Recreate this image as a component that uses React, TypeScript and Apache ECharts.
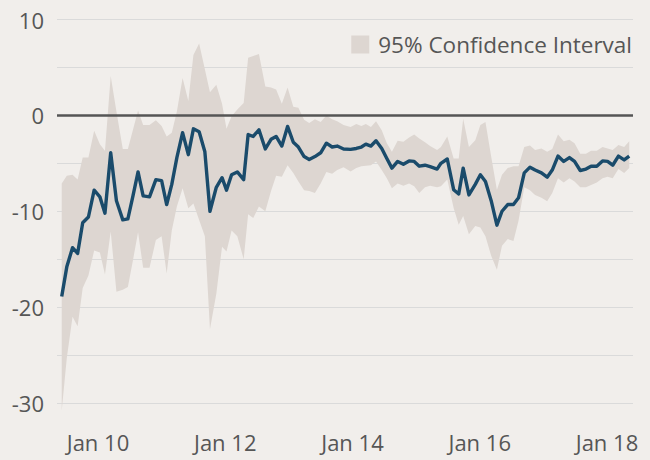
import React, { useEffect, useRef } from 'react';
import * as echarts from 'echarts';

// Observation dates as decimal years
const years = [
  2009.43, 2009.51, 2009.60, 2009.68, 2009.76, 2009.85, 2009.94, 2010.03, 2010.11, 2010.20,
  2010.29, 2010.39, 2010.47, 2010.55, 2010.63, 2010.71, 2010.81, 2010.91, 2011.00, 2011.08,
  2011.16, 2011.24, 2011.33, 2011.42, 2011.50, 2011.59, 2011.68, 2011.76, 2011.86, 2011.95,
  2012.02, 2012.10, 2012.19, 2012.29, 2012.36, 2012.44, 2012.53, 2012.63, 2012.72, 2012.80,
  2012.89, 2012.98, 2013.07, 2013.15, 2013.24, 2013.32, 2013.41, 2013.50, 2013.59, 2013.68,
  2013.76, 2013.86, 2013.97, 2014.06, 2014.14, 2014.21, 2014.29, 2014.37, 2014.46, 2014.54,
  2014.62, 2014.71, 2014.80, 2014.89, 2014.97, 2015.05, 2015.14, 2015.22, 2015.33, 2015.39,
  2015.49, 2015.59, 2015.67, 2015.74, 2015.83, 2015.93, 2016.01, 2016.09, 2016.18, 2016.27,
  2016.35, 2016.44, 2016.53, 2016.61, 2016.70, 2016.79, 2016.87, 2016.97, 2017.06, 2017.14,
  2017.23, 2017.32, 2017.41, 2017.49, 2017.58, 2017.67, 2017.75, 2017.84, 2017.93, 2018.01,
  2018.09, 2018.18, 2018.27, 2018.35,
];

// Point estimate
const estimate = [
  -18.9, -15.8, -13.8, -14.4, -11.2, -10.6, -7.8, -8.5, -10.2, -3.9,
  -8.9, -10.9, -10.8, -8.4, -5.9, -8.4, -8.5, -6.7, -6.8, -9.3,
  -7.2, -4.4, -1.8, -4.1, -1.4, -1.7, -3.8, -10.0, -7.5, -6.5,
  -7.8, -6.2, -5.9, -6.7, -2.0, -2.2, -1.5, -3.5, -2.5, -2.2,
  -3.2, -1.15, -2.8, -3.3, -4.3, -4.6, -4.3, -3.9, -2.9, -3.3,
  -3.2, -3.5, -3.55, -3.45, -3.3, -3.0, -3.2, -2.65, -3.45, -4.5,
  -5.5, -4.8, -5.1, -4.75, -4.8, -5.3, -5.2, -5.35, -5.6, -5.0,
  -4.55, -7.75, -8.2, -5.5, -8.3, -7.2, -6.2, -6.9, -8.9, -11.45,
  -10.0, -9.3, -9.3, -8.6, -6.0, -5.4, -5.7, -6.0, -6.45, -5.7,
  -4.25, -4.8, -4.4, -4.8, -5.75, -5.6, -5.3, -5.3, -4.75, -4.8,
  -5.2, -4.25, -4.65, -4.25,
];

// Upper bound of the 95% confidence interval
const upper = [
  -7.1, -6.3, -6.2, -6.7, -4.4, -4.4, -1.6, -3.0, -3.7, 4.1,
  0.4, -3.5, -3.5, -1.5, 0.5, -1.0, -1.0, -0.5, -1.1, -2.2,
  -1.8, 0.4, 3.9, 1.5, 6.3, 7.5, 4.8, 2.4, 3.2, 1.2,
  -1.4, -0.1, 0.6, 1.3, 6.0, 6.2, 6.4, 3.0, 2.9, 2.7,
  1.2, 2.9, 0.9, 0.8, -0.45, -0.8, -0.4, -0.7, 0.0, -0.4,
  -0.6, -1.0, -1.2, -0.9, -1.1, -0.9, -1.2, -0.6, -1.55, -2.9,
  -3.8, -2.65, -2.75, -2.3, -2.0, -2.4, -2.8, -3.2, -3.6, -3.3,
  -2.2, -4.5, -4.5, -0.35, -3.3, -2.6, -1.0, -0.7, -4.3, -7.75,
  -6.2, -5.5, -5.3, -5.3, -3.3, -3.15, -3.6, -3.45, -3.8, -3.5,
  -2.0, -2.7, -2.55, -2.9, -4.0, -4.0, -3.7, -3.7, -3.3, -3.45,
  -3.6, -3.1, -3.3, -2.7,
];

// Lower bound of the 95% confidence interval
const lower = [
  -30.8, -25.3, -21.0, -22.0, -18.0, -16.7, -14.1, -14.3, -16.6, -12.1,
  -18.4, -18.2, -17.9, -15.1, -12.2, -15.9, -15.9, -13.0, -12.6, -16.5,
  -12.0, -9.5, -7.6, -9.7, -9.2, -10.9, -12.6, -22.3, -18.6, -13.7,
  -14.2, -12.0, -12.6, -15.0, -10.3, -10.7, -9.5, -10.0, -7.9, -6.3,
  -6.4, -5.2, -6.0, -6.9, -7.8, -7.9, -8.1, -7.1, -5.9, -6.1,
  -5.7, -5.4, -5.85, -5.5, -5.3, -5.25, -5.2, -4.8, -5.7, -6.55,
  -7.6, -7.1, -7.35, -7.1, -7.4, -8.1, -7.5, -7.35, -7.5, -7.4,
  -6.7, -9.65, -11.4, -10.5, -12.4, -11.55, -11.7, -12.6, -14.65, -16.1,
  -13.6, -12.9, -13.1, -11.0, -7.5, -7.8, -8.3, -8.6, -8.95, -8.1,
  -6.55, -7.0, -6.55, -6.9, -7.5, -7.5, -7.25, -7.0, -6.55, -6.4,
  -6.55, -5.6, -6.0, -5.5,
];

const xTickYears = [2010, 2012, 2014, 2016, 2018];
const bandName = '95% Confidence Interval';

const FONT = "'Open Sans', 'Noto Sans', sans-serif";
const TEXT = '#565656';
const BAND = '#ddd6d1';
const LINE = '#1a4b6b';

export default function App() {
  const ref = useRef<HTMLDivElement>(null);

  useEffect(() => {
    if (!ref.current) return;
    const chart = echarts.init(ref.current, null, { renderer: 'svg' });
    const bandData = years.map((y, i) => [y, lower[i], upper[i]]);
    const lineData = years.map((y, i) => [y, estimate[i]]);

    chart.setOption({
      animation: false,
      backgroundColor: '#f1eeeb',
      textStyle: { fontFamily: FONT },
      grid: { left: 57, right: 17, top: 19.5, bottom: 57 },
      legend: {
        data: [bandName],
        right: 18,
        top: 33,
        padding: 0,
        icon: 'rect',
        itemWidth: 18,
        itemHeight: 18,
        selectedMode: false,
        textStyle: { fontSize: 22.5, color: TEXT, fontFamily: FONT, padding: [0, 0, 0, 4] },
      },
      xAxis: {
        type: 'value',
        min: 2009.356,
        max: 2018.409,
        axisLine: { show: false },
        axisTick: { show: false },
        splitLine: { show: false },
        axisLabel: {
          customValues: xTickYears,
          formatter: (v: number) => 'Jan ' + String(Math.round(v)).slice(2),
          fontSize: 22,
          color: TEXT,
          fontFamily: FONT,
          margin: 28,
        },
      },
      yAxis: {
        type: 'value',
        min: -30,
        max: 10,
        interval: 5,
        axisLine: { show: false },
        axisTick: { show: false },
        splitLine: { lineStyle: { color: '#dadada', width: 1 } },
        axisLabel: {
          formatter: (v: number) => (v % 10 === 0 ? String(v) : ''),
          fontSize: 22,
          color: TEXT,
          fontFamily: FONT,
          margin: 13,
        },
      },
      series: [
        {
          type: 'custom',
          name: bandName,
          data: bandData,
          encode: { x: 0, y: [1, 2] },
          itemStyle: { color: BAND },
          renderItem: (params: any, api: any) => {
            if (params.dataIndex !== 0) return null;
            const pts: number[][] = [];
            for (let i = 0; i < years.length; i++) pts.push(api.coord([years[i], upper[i]]));
            for (let i = years.length - 1; i >= 0; i--) pts.push(api.coord([years[i], lower[i]]));
            return {
              type: 'polygon',
              shape: { points: pts },
              style: { fill: BAND, stroke: null },
            };
          },
        },
        {
          type: 'line',
          name: 'Estimate',
          data: lineData,
          symbol: 'none',
          lineStyle: { color: LINE, width: 3.4, join: 'round' },
          itemStyle: { color: LINE },
          markLine: {
            silent: true,
            symbol: ['none', 'none'],
            label: { show: false },
            lineStyle: { color: '#555555', width: 2.5, type: 'solid' },
            data: [{ yAxis: 0 }],
          },
        },
      ],
    });

    return () => chart.dispose();
  }, []);

  return (
    <div
      ref={ref}
      style={{ position: 'fixed', left: 0, top: 0, width: 650, height: 460 }}
    />
  );
}
